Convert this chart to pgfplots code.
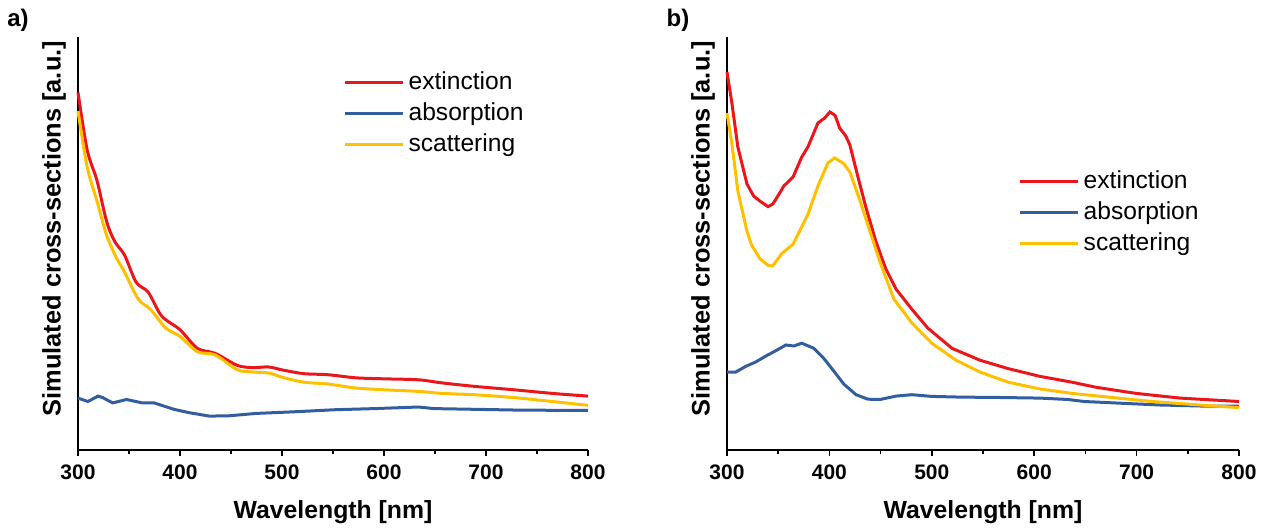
\documentclass[border=0pt]{standalone}
\usepackage{fontspec}
\setmainfont{Liberation Sans}
\usepackage{pgfplots}
\pgfplotsset{compat=1.18}
\definecolor{cred}{RGB}{235,22,28}
\definecolor{cblue}{RGB}{50,94,160}
\definecolor{cyellow}{RGB}{255,192,0}
\pgfplotsset{
  myaxis/.style={
    scale only axis,
    anchor=south west,
    height=206.5pt,
    xmin=300, xmax=800, ymin=0, ymax=413,
    axis x line=bottom, axis y line=left,
    axis line style={-, line width=0.8pt, black},
    xtick={300,400,500,600,700,800},
    minor x tick num=1,
    ytick=\empty,
    tick align=outside,
    major tick length=3pt, minor tick length=2pt,
    every tick/.style={black, line width=0.8pt},
    /pgf/number format/assume math mode=true,
    xticklabel style={font=\fontsize{10.5}{12}\selectfont\bfseries, yshift=-1pt},
    xlabel={Wavelength [nm]},
    ylabel={Simulated cross-sections [a.u.]},
    xlabel style={font=\fontsize{12.4}{14}\selectfont\bfseries, at={(axis description cs:0.5,0)}, anchor=center, yshift=-31pt},
    ylabel style={font=\fontsize{12.7}{14}\selectfont\bfseries, at={(axis description cs:0,0.536)}, rotate=0, anchor=south, yshift=2.5pt},
    clip=false,
    legend cell align=left,
    legend style={draw=none, fill=none, font=\fontsize{12.3}{14}\selectfont, inner sep=0pt, row sep=1pt, anchor=north west},
    legend image code/.code={\draw[#1, line width=1.5pt] (0pt,0pt) -- (29pt,0pt);},
  }
}
\begin{document}
\begin{tikzpicture}
\path[use as bounding box] (0,0) rectangle (633pt,265.5pt);
\node[font=\fontsize{12}{14}\selectfont\bfseries] at (9pt,255.5pt) {a)};
\node[font=\fontsize{12}{14}\selectfont\bfseries] at (339pt,255.5pt) {b)};
\begin{axis}[myaxis, at={(39pt,40.5pt)}, width=255pt,
  legend style={at={(0.52,0.926)}}]
\addplot[cred, line width=1.5pt, smooth] coordinates {
(300,357.6) (309,300) (318.6,269.5) (328,228.8) (336,208.5) (345.6,195) (357,167.8) (369,157.6) (382,134) (400,120.3) (417,101.7) (434.6,96.6) (456,84.7) (471,82.4) (487,83) (502,79.7) (521.6,76.3) (545,75.3) (572,72.2) (599,71.2) (633.7,70.2) (657,67.1) (688,63.7) (726.5,60.3) (765,56.6) (800,53.9)};
\addlegendentry{extinction}
\addplot[cblue, line width=1.5pt] coordinates {
(300,51.9) (309.7,48.5) (319.7,53.9) (324,52.5) (334,47.1) (347.6,50.5) (363,47.1) (374.6,47.1) (394,40.7) (409,37.3) (428.8,33.9) (448,34.2) (475,36.6) (514,38.3) (552.5,40.3) (591,41.4) (633.7,43) (649,41.4) (688,40.7) (726.5,40) (765,39.7) (800,39.7)};
\addlegendentry{absorption}
\addplot[cyellow, line width=1.5pt, smooth] coordinates {
(300,339) (309,283) (318.6,249) (328,215) (338,191.5) (345.6,178) (359,151) (371,140.7) (386,122) (400,113.6) (417,98.3) (434.6,95) (456,80.3) (471,78) (487,77) (502,72.2) (521.6,67.8) (545,66) (572,62) (599,60.3) (633.7,58.6) (657,56.6) (688,55.3) (726.5,52.5) (765,48.5) (800,44.7)};
\addlegendentry{scattering}
\end{axis}
\begin{axis}[myaxis, at={(363.5pt,40.5pt)}, width=256pt,
  legend style={at={(0.569,0.686)}}]
\addplot[cred, line width=1.5pt] coordinates {
(300,378) (304.7,347.5) (310.6,303) (319.5,266) (326,254) (332,249) (340,243.4) (344.6,245.8) (349.7,254) (355.5,264) (364.5,273) (373,293) (379,303) (388.8,327) (395.4,332) (400.5,338) (405.6,334.6) (410,322) (416,314) (420,305) (427.9,273) (435.7,242.4) (445.4,208.5) (455,181.4) (465,161) (480.6,140.7) (496,122) (519.7,101.7) (547,89.8) (574.5,81.4) (605.8,73.6) (637,67.8) (660.5,62.7) (699.6,56.6) (742.6,51.9) (800,48.5)};
\addlegendentry{extinction}
\addplot[cblue, line width=1.5pt] coordinates {
(300,78) (308.6,78) (318.4,83.7) (328,88) (338,94) (347.7,99.3) (357.5,105) (365.3,104) (373,106.8) (384.8,101.7) (394.6,91.5) (402.4,81.4) (414,66) (426,55.3) (437.6,50.8) (449.4,50.5) (465,53.9) (480.6,55.3) (500,53.6) (527.6,52.9) (566.7,52.5) (605.8,51.9) (633,50.5) (648.8,48.5) (684,46.8) (723,45) (762,44) (800,44)};
\addlegendentry{absorption}
\addplot[cyellow, line width=1.5pt] coordinates {
(300,337) (304.7,306.8) (310.6,259) (319.5,218.6) (324,205) (332,191.5) (340,184.7) (344.6,184) (353.6,196.6) (364.5,205.8) (379,235.6) (388.8,264) (398.5,287) (405.2,292) (414,286.4) (420,278) (430,249) (439.6,218.6) (449.4,188) (463,150.8) (480.6,127) (500,106.8) (523.6,89.8) (547,78) (574.5,67.8) (605.8,61) (637,56.6) (676,52.5) (715,48.5) (762,45) (800,42.4)};
\addlegendentry{scattering}
\end{axis}
\end{tikzpicture}
\end{document}
